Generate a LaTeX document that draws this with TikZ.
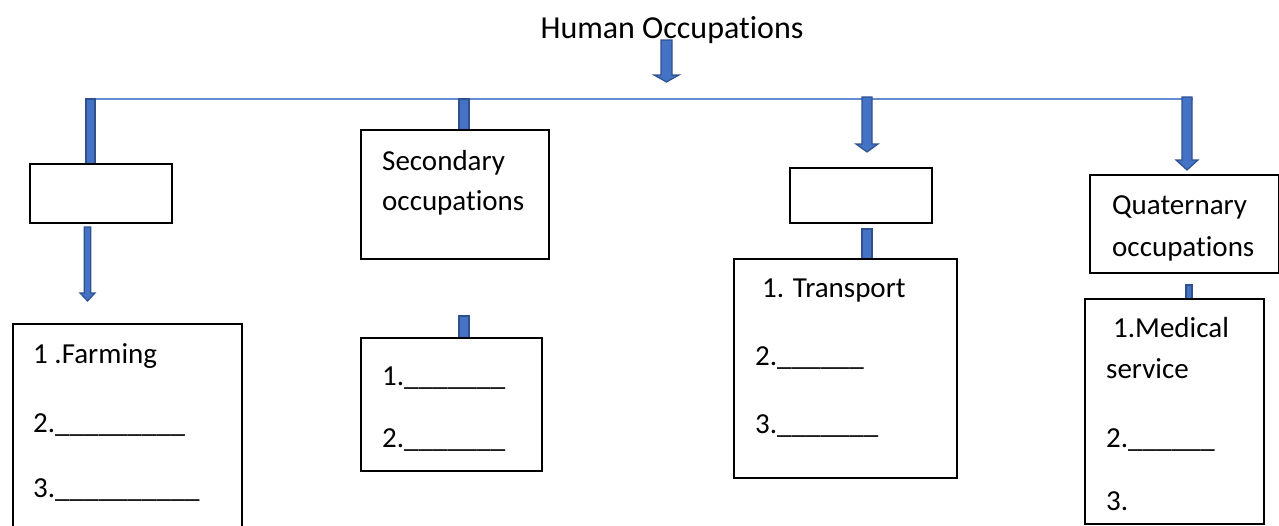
\documentclass[tikz,border=0pt]{standalone}
\usepackage{fontspec}
\setmainfont{Carlito}[Ligatures={NoCommon}]
\definecolor{arrowblue}{RGB}{68,114,196}
\definecolor{arrowedge}{RGB}{47,82,143}
\definecolor{lineblue}{RGB}{100,140,210}
\tikzset{
  box/.style={draw=black, line width=2pt, fill=white, inner sep=0pt, anchor=north west},
  lbl/.style={font=\fontsize{29}{35}\selectfont, inner sep=0pt, anchor=base west},
  barfill/.style={fill=arrowblue, draw=arrowedge, line width=1.2pt},
  hline/.style={draw=lineblue, line width=1.3pt}
}
\newcommand\blkarrow[6]{%
  \draw[barfill] ({#1-#5},#2) -- ({#1+#5},#2) -- ({#1+#5},#3) -- ({#1+#6},#3)
    -- (#1,#4) -- ({#1-#6},#3) -- ({#1-#5},#3) -- cycle;}
\newcommand\blkbar[4]{\draw[barfill] (#1,#2) rectangle (#3,#4);}
\begin{document}
\begin{tikzpicture}[x=1pt,y=-1pt]
\fill[white] (0,0) rectangle (1279,525);
\useasboundingbox (0,0) rectangle (1279,525);
% title
\node[lbl, anchor=base, font=\fontsize{32}{38}\selectfont] (title) at (672,38) {Human Occupations};
% horizontal line
\coordinate (hl) at (90,99);
\coordinate (hr) at (1193,99);
\draw[hline] (hl) -- (hr);
% arrows and bars
\blkarrow{666.5}{40}{75}{82}{5.5}{12.5}
\blkbar{86}{99}{95}{165}
\blkarrow{87.5}{227}{293}{301}{3.2}{7.5}
\blkbar{459}{99}{469}{131}
\blkbar{459}{316}{469}{339}
\blkarrow{867}{97}{144}{152}{5}{11}
\blkbar{862}{229}{872}{260}
\blkarrow{1187}{97}{160}{170}{5}{11}
\blkbar{1186}{285}{1192}{300}
% boxes
\node[box, minimum width=142pt, minimum height=59pt] (p1) at (29,163) {};
\node[box, minimum width=229pt, minimum height=230pt] (p2) at (12,323) {};
\node[box, minimum width=188pt, minimum height=129pt] (s1) at (360,129) {};
\node[box, minimum width=181pt, minimum height=133pt] (s2) at (360,337) {};
\node[box, minimum width=142pt, minimum height=55pt] (t1) at (789,167) {};
\node[box, minimum width=223pt, minimum height=219pt] (t2) at (733,258) {};
\node[box, minimum width=189pt, minimum height=98pt] (q1) at (1089,174) {};
\node[box, minimum width=179pt, minimum height=225pt] (q2) at (1084,298) {};
% texts
\node[lbl] (f1) at (33,363) {1 .Farming};
\node[lbl] (f2) at (33,432) {2.\_\_\_\_\_\_\_\_\_};
\node[lbl] (f3) at (33,497) {3.\_\_\_\_\_\_\_\_\_\_};
\node[lbl] (sa) at (382,170) {Secondary};
\node[lbl] (sb) at (382,210) {occupations};
\node[lbl] (s21) at (382,385) {1.\_\_\_\_\_\_\_};
\node[lbl] (s22) at (382,447) {2.\_\_\_\_\_\_\_};
\node[lbl] (ta) at (762,297) {1. Transport};
\node[lbl] (tb) at (755,365) {2.\_\_\_\_\_\_};
\node[lbl] (tc) at (755,433) {3.\_\_\_\_\_\_\_};
\node[lbl] (qa) at (1112,214) {Quaternary};
\node[lbl] (qb) at (1112,256) {occupations};
\node[lbl] (qc) at (1113,337) {1.Medical};
\node[lbl] (qd) at (1106,378) {service};
\node[lbl] (qe) at (1106,447) {2.\_\_\_\_\_\_};
\node[lbl] (qf) at (1106,510) {3.};
\end{tikzpicture}
\end{document}
